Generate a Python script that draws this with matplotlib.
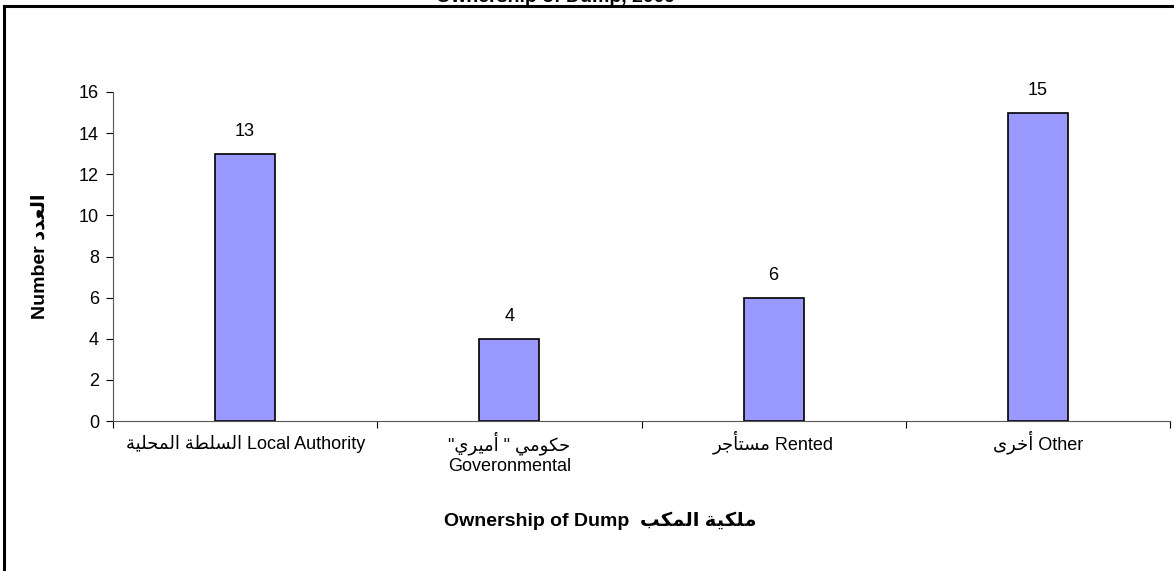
import re
import matplotlib
matplotlib.use("Agg")
import matplotlib.pyplot as plt
from matplotlib.lines import Line2D

# ---------------- data ----------------
categories = [
    "السلطة المحلية Local Authority",
    "حكومي \" أميري\"\nGoveronmental",
    "مستأجر Rented",
    "أخرى Other",
]
values = [13, 4, 6, 15]
y_ticks = [0, 2, 4, 6, 8, 10, 12, 14, 16]
x_title = "Ownership of Dump  ملكية المكب"
y_title = "Number العدد"
chart_title = "Ownership of Dump, 2009"

# ---------------- minimal Arabic shaping + RTL ordering ----------------
FORMS = {  # isolated, final, initial, medial
    'ا': (0xFE8D, 0xFE8E, None, None), 'أ': (0xFE83, 0xFE84, None, None),
    'ب': (0xFE8F, 0xFE90, 0xFE91, 0xFE92), 'ة': (0xFE93, 0xFE94, None, None),
    'ت': (0xFE95, 0xFE96, 0xFE97, 0xFE98), 'ج': (0xFE9D, 0xFE9E, 0xFE9F, 0xFEA0),
    'ح': (0xFEA1, 0xFEA2, 0xFEA3, 0xFEA4), 'خ': (0xFEA5, 0xFEA6, 0xFEA7, 0xFEA8),
    'د': (0xFEA9, 0xFEAA, None, None), 'ر': (0xFEAD, 0xFEAE, None, None),
    'س': (0xFEB1, 0xFEB2, 0xFEB3, 0xFEB4), 'ط': (0xFEC1, 0xFEC2, 0xFEC3, 0xFEC4),
    'ع': (0xFEC9, 0xFECA, 0xFECB, 0xFECC), 'ك': (0xFED9, 0xFEDA, 0xFEDB, 0xFEDC),
    'ل': (0xFEDD, 0xFEDE, 0xFEDF, 0xFEE0), 'م': (0xFEE1, 0xFEE2, 0xFEE3, 0xFEE4),
    'و': (0xFEED, 0xFEEE, None, None), 'ى': (0xFEEF, 0xFEF0, None, None),
    'ي': (0xFEF1, 0xFEF2, 0xFEF3, 0xFEF4),
}


def shape_run(run):
    out = []
    n = len(run)
    for i, c in enumerate(run):
        f = FORMS.get(c)
        if f is None:
            out.append(c)
            continue
        prev_j = i > 0 and run[i - 1] in FORMS and FORMS[run[i - 1]][2] is not None
        next_j = i < n - 1 and run[i + 1] in FORMS and f[2] is not None
        if prev_j and next_j:
            code = f[3]
        elif prev_j:
            code = f[1]
        elif next_j:
            code = f[2]
        else:
            code = f[0]
        out.append(chr(code))
    return "".join(reversed(out))


def visual_line(line):
    if not re.search(r"[A-Za-z0-9]", line):
        return shape_run(line)
    return re.sub(r"[\u0600-\u06FF](?:[\u0600-\u06FF \"]*[\u0600-\u06FF])?",
                  lambda m: shape_run(m.group(0)), line)


def visual(s):
    return "\n".join(visual_line(l) for l in s.split("\n"))


FAM = ["Liberation Sans", "DejaVu Sans"]
plt.rcParams["font.family"] = FAM

W, H = 1174, 571
AX_H = 421 - 92
fig = plt.figure(figsize=(W / 100, H / 100), dpi=100)
fig.patch.set_facecolor("white")

ax = fig.add_axes([113 / W, (H - 421) / H, (1170 - 113) / W, AX_H / H])
x = list(range(len(categories)))
ax.bar(x, values, width=0.227, color="#9999FF", edgecolor="black", linewidth=1.2)
for xi, v in zip(x, values):
    ax.annotate(str(v), (xi, v), xytext=(0, 16), textcoords="offset points",
                ha="center", va="center", fontsize=13)

ax.set_xlim(-0.5, len(categories) - 0.5)
ax.set_ylim(0, 16)
ax.set_yticks(y_ticks)
ax.set_yticklabels([str(t) for t in y_ticks], fontsize=13)
ax.set_xticks([i - 0.5 for i in range(len(categories) + 1)])
ax.set_xticklabels([])
ax.tick_params(axis="x", which="major", length=5, direction="out", color="black", width=0.8)
ax.tick_params(axis="y", length=5, direction="out", color="black", width=0.8, pad=5)
for sp in ["top", "right"]:
    ax.spines[sp].set_visible(False)
for sp in ["left", "bottom"]:
    ax.spines[sp].set_color("#555555")
    ax.spines[sp].set_linewidth(0.8)

# category labels (baseline of first line ~28px below the axis, 22px line step)
xt = ax.get_xaxis_transform()
for xi, c in zip(x, categories):
    nlines = c.count("\n") + 1
    ybase = -(28 + 22 * (nlines - 1)) / AX_H
    ax.text(xi, ybase, visual(c), transform=xt, ha="center", va="baseline",
            fontsize=13, linespacing=1.22, multialignment="center")

ax.set_xlabel(visual(x_title), fontsize=14, fontweight="bold", va="center")
ax.xaxis.set_label_coords((600 - 113) / 1057, (421 - 521) / AX_H)
ax.set_ylabel(visual(y_title), fontsize=14, fontweight="bold", va="center")
ax.yaxis.set_label_coords((40 - 113) / 1057, 0.5)

# outer chart frame
fig.add_artist(Line2D([4 / W, 1.0], [1 - 6 / H, 1 - 6 / H], color="black", lw=2.2,
                      transform=fig.transFigure))
fig.add_artist(Line2D([4 / W, 4 / W], [0, 1 - 6 / H], color="black", lw=2.2,
                      transform=fig.transFigure))

# title (mostly clipped off the top of the image)
fig.text(675 / W, 1 - 2 / H, chart_title, ha="right", va="baseline",
         fontsize=14, fontweight="bold")

fig.savefig("out.png", dpi=100, facecolor="white")
